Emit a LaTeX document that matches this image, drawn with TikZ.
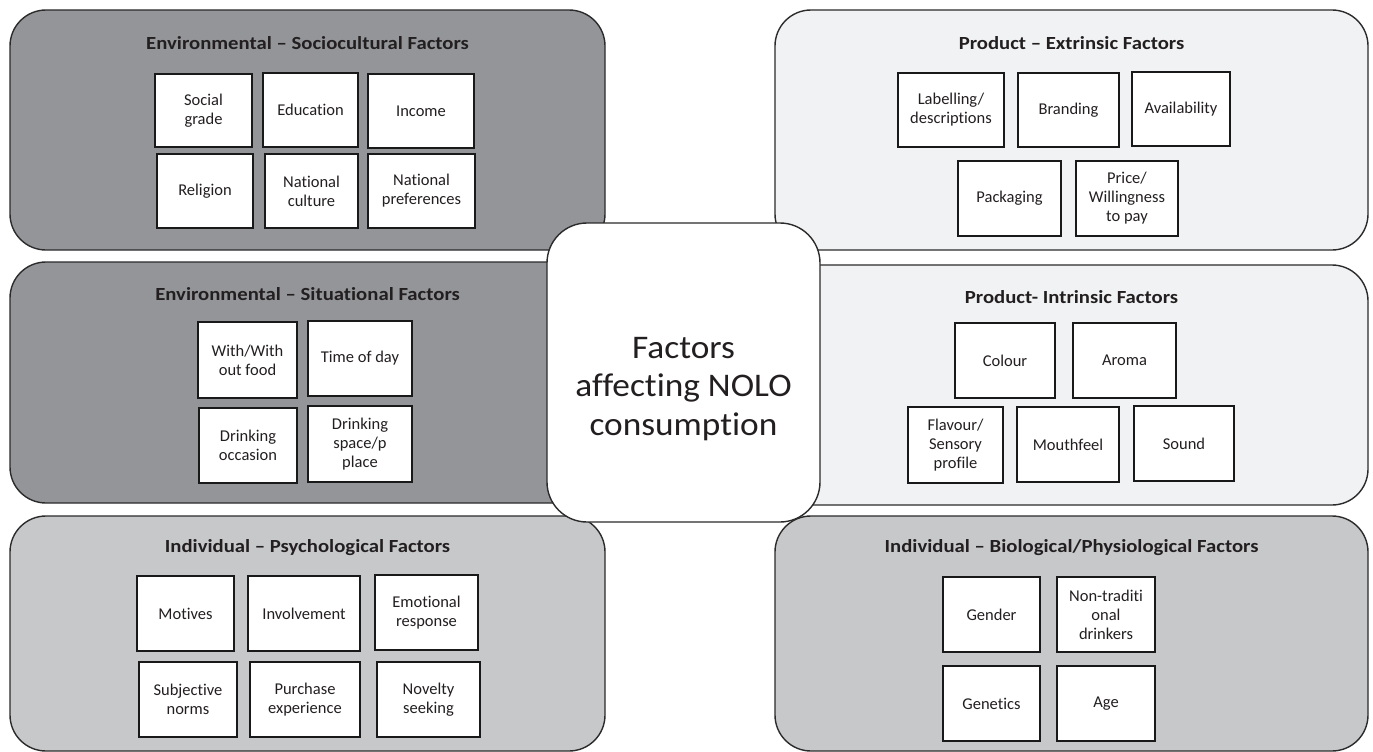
\documentclass[tikz,border=0pt]{standalone}
\usepackage{fontspec}
\setmainfont{Carlito}[Ligatures=NoCommon]
\newfontfamily\headfont{Carlito}[FakeStretch=1.12, Ligatures=NoCommon]
\newfontfamily\hubfont{Carlito}[FakeStretch=1.07, Ligatures=NoCommon]
\definecolor{darkpanel}{HTML}{939598}
\definecolor{lightpanel}{HTML}{F1F2F3}
\definecolor{midpanel}{HTML}{C7C8CA}
\definecolor{edge}{HTML}{2B2B2B}
\definecolor{ink}{HTML}{231F20}
\tikzset{
  panel/.style={draw=edge, line width=1.4pt, rounded corners=36pt, rectangle, inner sep=0pt},
  paneltitle/.style={font=\headfont\bfseries\fontsize{18.5}{22}\selectfont, text=ink, inner sep=0pt},
  factor/.style={draw=black!90, line width=1.2pt, fill=white, rectangle, inner sep=0pt,
    align=center, font=\fontsize{16.5}{19}\selectfont, text=ink},
  hub/.style={draw=edge, line width=1.4pt, fill=white, rounded corners=40pt, rectangle,
    inner sep=0pt, minimum width=273pt, minimum height=299pt},
  hubtext/.style={inner sep=0pt, align=center, font=\hubfont\fontsize{33}{38.5}\selectfont, text=ink}
}
\begin{document}
\begin{tikzpicture}[x=1pt,y=-1pt]
\useasboundingbox[fill=white] (0,0) rectangle (1373,752);

% group panels
\node[panel, fill=darkpanel,  minimum width=595pt, minimum height=240pt] (envsoc) at (307.5,130) {};
\node[panel, fill=lightpanel, minimum width=593pt, minimum height=240pt] (prodext) at (1071.5,130) {};
\node[panel, fill=darkpanel,  minimum width=595pt, minimum height=241pt] (envsit) at (307.5,382.5) {};
\node[panel, fill=lightpanel, minimum width=593pt, minimum height=240pt] (prodint) at (1071.5,385) {};
\node[panel, fill=midpanel,   minimum width=595pt, minimum height=235pt] (indpsy) at (307.5,633.5) {};
\node[panel, fill=midpanel,   minimum width=593pt, minimum height=235pt] (indbio) at (1071.5,633.5) {};

% panel titles
\node[paneltitle] (tenvsoc) at (307.5,43) {Environmental – Sociocultural Factors};
\node[paneltitle] (tprodext) at (1071.5,43) {Product – Extrinsic Factors};
\node[paneltitle] (tenvsit) at (307.5,294) {Environmental – Situational Factors};
\node[paneltitle] (tprodint) at (1071.5,297) {Product- Intrinsic Factors};
\node[paneltitle] (tindpsy) at (307.5,548) {Individual – Psychological Factors};
\node[paneltitle] (tindbio) at (1071.5,548) {Individual – Biological/Physiological Factors};

% sociocultural
\node[factor, minimum width=97pt,  minimum height=73pt] (sg)  at (203.5,110.5) {Social\\grade};
\node[factor, minimum width=95pt,  minimum height=74pt] (edu) at (310.5,110) {Education};
\node[factor, minimum width=106pt, minimum height=74pt] (inc) at (421,111) {Income};
\node[factor, minimum width=96pt,  minimum height=74pt] (rel) at (205,191) {Religion};
\node[factor, minimum width=93pt,  minimum height=74pt] (nc)  at (311.5,191) {National\\culture};
\node[factor, minimum width=107pt, minimum height=74pt] (np)  at (421.5,191) {National\\preferences};

% extrinsic
\node[factor, minimum width=106pt, minimum height=74pt] (lab) at (951,110) {Labelling/\\descriptions};
\node[factor, minimum width=101pt, minimum height=74pt] (bra) at (1068.5,110) {Branding};
\node[factor, minimum width=98pt,  minimum height=74pt] (ava) at (1181,109) {Availability};
\node[factor, minimum width=103pt, minimum height=75pt] (pac) at (1009.5,198.5) {Packaging};
\node[factor, minimum width=102pt, minimum height=75pt] (pri) at (1127,198.5) {Price/\\Willingness\\to pay};

% situational
\node[factor, minimum width=99pt,  minimum height=76pt] (wf)  at (247.5,360) {With/With\\out food};
\node[factor, minimum width=104pt, minimum height=75pt] (tod) at (360,358.5) {Time of day};
\node[factor, minimum width=98pt,  minimum height=75pt] (doc) at (248,445.5) {Drinking\\occasion};
\node[factor, minimum width=104pt, minimum height=76pt] (dsp) at (360,444) {Drinking\\space/p\\place};

% intrinsic
\node[factor, minimum width=100pt, minimum height=75pt] (col) at (1005,360.5) {Colour};
\node[factor, minimum width=103pt, minimum height=75pt] (aro) at (1124.5,360.5) {Aroma};
\node[factor, minimum width=95pt,  minimum height=76pt] (fla) at (955.5,445) {Flavour/\\Sensory\\profile};
\node[factor, minimum width=102pt, minimum height=75pt] (mou) at (1068,444.5) {Mouthfeel};
\node[factor, minimum width=100pt, minimum height=75pt] (sou) at (1184,443.5) {Sound};

% psychological
\node[factor, minimum width=97pt,  minimum height=75pt] (mot) at (185.5,613.5) {Motives};
\node[factor, minimum width=112pt, minimum height=75pt] (inv) at (304,613.5) {Involvement};
\node[factor, minimum width=103pt, minimum height=75pt] (emo) at (426.5,612.5) {Emotional\\response};
\node[factor, minimum width=98pt,  minimum height=75pt] (sub) at (188,699.5) {Subjective\\norms};
\node[factor, minimum width=110pt, minimum height=75pt] (pur) at (305,699.5) {Purchase\\experience};
\node[factor, minimum width=103pt, minimum height=75pt] (nov) at (428.5,699.5) {Novelty\\seeking};

% biological / physiological
\node[factor, minimum width=97pt, minimum height=75pt] (gnd) at (991.5,614.5) {Gender};
\node[factor, minimum width=98pt, minimum height=75pt] (ntd) at (1106,614.5) {Non-traditi\\onal\\drinkers};
\node[factor, minimum width=97pt, minimum height=75pt] (gen) at (991.5,703.5) {Genetics};
\node[factor, minimum width=98pt, minimum height=75pt] (age) at (1106,703.5) {Age};

% central hub
\node[hub] (hubnode) at (683.5,372.5) {};
\node[hubtext] (hublabel) at (683.5,389) {Factors\\affecting NOLO\\consumption};
\end{tikzpicture}
\end{document}
